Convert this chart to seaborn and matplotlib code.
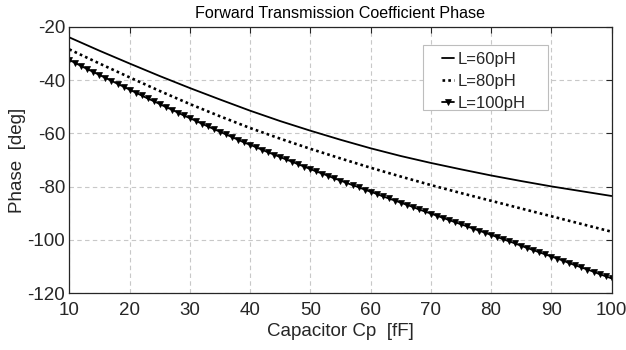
import numpy as np
import pandas as pd
import matplotlib
matplotlib.use("Agg")
import matplotlib.pyplot as plt
from matplotlib.patches import Rectangle
import seaborn as sns

# Capacitance values (fF)
cp_coarse = [10, 15, 20, 25, 30, 35, 40, 45, 50, 55, 60, 65, 70, 75, 80, 85, 90, 95, 100]
phase_60 = [-24.0, -29.0, -33.8, -38.5, -43.0, -47.3, -51.5, -55.4, -59.0, -62.4,
            -65.6, -68.5, -71.1, -73.5, -75.8, -77.9, -79.9, -81.7, -83.5]
phase_80 = [-28.5, -33.8, -39.0, -44.1, -49.0, -53.6, -58.0, -62.0, -65.8, -69.4,
            -72.9, -76.2, -79.4, -82.4, -85.3, -88.2, -91.1, -94.0, -96.9]

cp_fine = list(range(10, 101))
phase_100 = [
    -32.5, -33.6, -34.8, -35.9, -37.0, -38.1, -39.2, -40.3, -41.4, -42.5,
    -43.6, -44.7, -45.8, -46.9, -47.9, -49.0, -50.1, -51.1, -52.2, -53.3,
    -54.3, -55.3, -56.4, -57.4, -58.4, -59.4, -60.4, -61.4, -62.4, -63.4,
    -64.3, -65.2, -66.2, -67.1, -68.0, -68.9, -69.8, -70.7, -71.6, -72.5,
    -73.4, -74.3, -75.1, -76.0, -76.9, -77.7, -78.6, -79.4, -80.2, -81.1,
    -81.9, -82.7, -83.6, -84.4, -85.2, -86.0, -86.8, -87.6, -88.5, -89.3,
    -90.1, -90.9, -91.7, -92.5, -93.3, -94.1, -94.9, -95.7, -96.5, -97.3,
    -98.1, -98.9, -99.7, -100.5, -101.3, -102.2, -103.0, -103.8, -104.6, -105.4,
    -106.2, -107.0, -107.8, -108.7, -109.5, -110.3, -111.1, -111.9, -112.8, -113.6,
    -114.4,
]

labels = ["L=60pH", "L=80pH", "L=100pH"]
x_ticks = [10, 20, 30, 40, 50, 60, 70, 80, 90, 100]
y_ticks = [-120, -100, -80, -60, -40, -20]

sns.set_theme(style="white")
plt.rcParams["font.family"] = ["Liberation Sans", "DejaVu Sans"]
plt.rcParams["axes.unicode_minus"] = False

fig = plt.figure(figsize=(6.26, 3.5), dpi=100)
ax = fig.add_axes([0.1107, 0.162, 0.8663, 0.7617])

df60 = pd.DataFrame({"Cp": cp_coarse, "Phase": phase_60})
df80 = pd.DataFrame({"Cp": cp_coarse, "Phase": phase_80})
df100 = pd.DataFrame({"Cp": cp_fine, "Phase": phase_100})

sns.lineplot(data=df60, x="Cp", y="Phase", ax=ax, color="black", linewidth=1.3,
             label=labels[0])
sns.lineplot(data=df80, x="Cp", y="Phase", ax=ax, color="black", linewidth=1.9,
             linestyle=(0, (1, 1.2)), label=labels[1])
sns.lineplot(data=df100, x="Cp", y="Phase", ax=ax, color="black", linewidth=1.3,
             marker="v", markersize=4.5, markeredgewidth=0.5, markeredgecolor="black",
             label=labels[2])

ax.set_xlim(10, 100)
ax.set_ylim(-120, -20)
ax.set_xticks(x_ticks)
ax.set_yticks(y_ticks)
ax.tick_params(axis="both", direction="in", length=4, width=0.8, labelsize=13.5,
               colors="#262626", top=True, right=True)
ax.tick_params(axis="x", pad=6)
ax.tick_params(axis="y", pad=3)
for lab in ax.get_xticklabels() + ax.get_yticklabels():
    lab.set_color("#262626")
for s in ax.spines.values():
    s.set_color("#262626")
    s.set_linewidth(0.9)
    s.set_visible(True)
ax.grid(True, linestyle=(0, (4, 3)), color="#c8c8c8", linewidth=0.8)
ax.set_axisbelow(True)

ax.set_xlabel("Capacitor Cp  [fF]", fontsize=13.5, color="#262626", labelpad=3)
ax.set_ylabel("Phase  [deg]", fontsize=13.5, color="#262626", labelpad=1)
ax.set_title("Forward Transmission Coefficient Phase", fontsize=11.6, color="black", pad=6)

# legend box (frame drawn separately to get MATLAB-like padding)
ax.add_patch(Rectangle((0.652, 0.6876), 0.2306, 0.2438, transform=ax.transAxes,
                       facecolor="white", edgecolor="#bdbdbd", linewidth=0.8, zorder=4))
leg = ax.legend(loc="upper left", bbox_to_anchor=(0.688, 0.905), fontsize=12,
                handlelength=0.7, handletextpad=0.2, borderpad=0.0, borderaxespad=0.0,
                labelspacing=0.42, frameon=False)
leg.set_zorder(5)

fig.savefig("out.png", dpi=100)
